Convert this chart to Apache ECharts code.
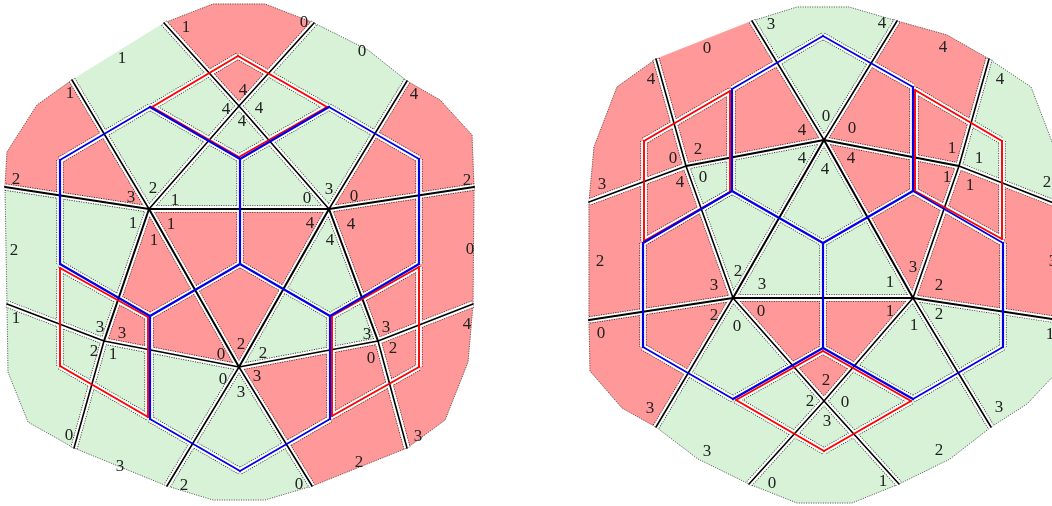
<!DOCTYPE html>
<html><head><meta charset="utf-8">
<style>html,body{margin:0;padding:0;background:#fff}#c{width:1052px;height:506px}</style>
<script src="https://cdn.jsdelivr.net/npm/echarts@6/dist/echarts.min.js"></script>
</head><body><div id="c"></div>
<script>
// ---- left figure: cells
const redCellsLeft = [
 [[164,23],[213,4],[265,4],[314,23],[239,106]],
 [[5,187],[7,152],[37,105],[72,80],[149,209]],
 [[407,81],[440,100],[472,135],[474,187],[329,209]],
 [[474,187],[473,304],[378,341],[329,209]],
 [[149,209],[329,209],[239,367]],
 [[149,209],[104,341],[239,367]],
 [[239,367],[378,341],[407,448],[312,486]],
 [[378,341],[473,304],[468,362],[445,420],[407,448]]
];
const greenCellsLeft = [
 [[72,80],[149,209],[239,106],[164,23]],
 [[314,23],[368,50],[407,81],[329,209],[239,106]],
 [[149,209],[239,106],[329,209]],
 [[5,187],[149,209],[104,341],[7,304]],
 [[329,209],[378,341],[239,367]],
 [[7,304],[104,341],[74,448],[28,422],[8,372]],
 [[104,341],[239,367],[167,486],[74,448]],
 [[239,367],[312,486],[265,500],[213,500],[167,486]]
];
// ---- right figure: cells
const redCellsRight = [
 [[656,59],[686,166],[824,140],[752,21]],
 [[897,21],[824,140],[959,166],[989,59],[947,35]],
 [[656,59],[686,166],[589,202],[594,147],[617,87]],
 [[824,140],[959,166],[913,298]],
 [[589,202],[686,166],[733,298],[589,320]],
 [[1059,205],[959,166],[913,298],[1059,320]],
 [[589,320],[733,298],[656,427],[622,408],[590,371]],
 [[733,298],[913,298],[824,401]]
];
const greenCellsRight = [
 [[752,21],[797,7],[849,7],[897,21],[824,140]],
 [[989,59],[959,166],[1059,205],[1054,147],[1031,87]],
 [[686,166],[824,140],[733,298]],
 [[824,140],[733,298],[913,298]],
 [[1059,320],[913,298],[991,427],[1027,404],[1058,371]],
 [[733,298],[824,401],[749,484],[698,459],[656,427]],
 [[913,298],[824,401],[899,484],[950,459],[991,427]],
 [[824,401],[899,484],[852,503],[797,503],[749,484]]
];
// ---- outer dotted outlines
const outlineLeft = [[164,23],[213,4],[265,4],[314,23],[368,50],[407,81],[440,100],[472,135],[474,187],[473,304],[468,362],[445,420],[407,448],[312,486],[265,500],[213,500],[167,486],[74,448],[28,422],[8,372],[7,304],[5,187],[7,152],[37,105],[72,80]];
const outlineRight = [[752,21],[797,7],[849,7],[897,21],[947,35],[989,59],[1031,87],[1054,147],[1059,205],[1059,320],[1058,371],[1027,404],[991,427],[950,459],[899,484],[852,503],[797,503],[749,484],[698,459],[656,427],[622,408],[590,371],[589,320],[589,202],[594,147],[617,87],[656,59]];
// ---- line segments [x1,y1,x2,y2]
const blackHeavy = [
 [149,209,329,209],[149,209,239,367],[329,209,239,367],[149,209,5,187],[329,209,474,187],
 [149,209,104,341],[329,209,378,341],
 [733,298,913,298],[824,140,733,298],[824,140,913,298],[733,298,589,320],[913,298,1059,320],
 [824,140,686,166],[824,140,959,166]
];
const blackThin = [
 [164,23,239,106],[239,106,329,209],[314,23,239,106],[239,106,149,209],[72,80,149,209],[407,81,329,209],
 [104,341,74,448],[378,341,407,448],[239,367,104,341],[104,341,7,304],[239,367,378,341],[378,341,473,304],
 [239,367,312,486],[239,367,167,486],
 [752,21,824,140],[897,21,824,140],[686,166,589,202],[959,166,1059,205],[656,59,686,166],[686,166,733,298],
 [989,59,959,166],[959,166,913,298],[733,298,656,427],[913,298,991,427],[733,298,824,401],[824,401,899,484],
 [913,298,824,401],[824,401,749,484]
];
const blueHeavy = [
 [240,159,240,264],[240,264,150,316],[240,264,330,316],[150,316,150,419],[330,316,330,419],
 [150,107,240,159],[240,159,329,107],[60,160,60,264],[419,159,419,264],[60,264,150,316],[419,264,330,316],
 [732,89,732,191],[913,87,913,191],[732,191,823,243],[913,191,823,243],[823,243,823,348],
 [643,243,643,347],[1003,243,1003,347],[732,191,643,243],[823,348,733,399],[823,348,913,399]
];
const blueThin = [
 [60,160,150,107],[329,107,419,159],[150,419,240,471],[240,471,330,419],
 [823,36,732,89],[823,36,913,87],[913,191,1003,243],[1003,347,913,399],[733,399,643,347]
];
const redLines = [
 [238,56,152,107],[152,107,239,157],[239,157,327,107],[327,107,238,56],
 [60,268,148,317],[148,317,148,417],[148,417,60,366],[60,366,60,268],
 [419,267,332,316],[332,316,332,416],[332,416,419,367],[419,367,419,267],
 [730,91,644,141],[644,141,644,241],[644,241,730,192],[730,192,730,91],
 [915,90,1002,141],[1002,141,1002,239],[1002,239,915,191],[915,191,915,90],
 [823,351,911,401],[911,401,824,451],[824,451,736,400],[736,400,823,351]
];
// ---- text labels [x,y,text]
const labelsLeft = [
 [186,28,'1'],[304,23,'0'],[122,59,'1'],[362,52,'0'],[70,94,'1'],[414,95,'4'],[243,91,'4'],[226,110,'4'],[259,109,'4'],[242,122,'4'],
 [16,180,'2'],[467,181,'2'],[131,198,'3'],[153,189,'2'],[175,201,'1'],[307,199,'0'],[329,190,'3'],[354,197,'0'],
 [133,224,'1'],[171,225,'1'],[154,241,'1'],[310,224,'4'],[351,225,'4'],[330,241,'4'],[14,251,'2'],[470,250,'0'],
 [16,319,'1'],[467,325,'4'],[100,328,'3'],[122,334,'3'],[94,352,'2'],[113,355,'1'],[367,335,'3'],[386,328,'3'],[371,359,'0'],[393,349,'2'],
 [221,355,'0'],[241,345,'2'],[263,354,'2'],[223,380,'0'],[241,393,'3'],[257,377,'3'],[69,436,'0'],[418,437,'3'],[120,467,'3'],[359,463,'2'],[184,486,'2'],[299,485,'0']
];
const labelsRight = [
 [771,25,'3'],[882,24,'4'],[707,49,'0'],[943,48,'4'],[651,80,'4'],[1000,80,'4'],[826,117,'0'],[802,131,'4'],[852,129,'0'],
 [698,150,'2'],[952,149,'1'],[673,159,'0'],[979,159,'1'],[802,159,'4'],[851,159,'4'],[825,170,'4'],[703,178,'0'],[680,183,'4'],[947,178,'1'],[970,186,'1'],
 [602,185,'3'],[1047,183,'2'],[600,262,'2'],[1053,262,'3'],[738,272,'2'],[913,268,'3'],[714,286,'3'],[762,285,'3'],[890,283,'1'],[939,286,'2'],
 [761,312,'0'],[714,316,'2'],[890,312,'1'],[939,315,'2'],[737,327,'0'],[914,326,'1'],[601,334,'0'],[1050,335,'1'],
 [826,381,'2'],[810,402,'2'],[845,403,'0'],[827,422,'3'],[650,409,'3'],[999,408,'3'],[707,452,'3'],[939,451,'2'],[772,484,'0'],[883,482,'1']
];

const RED='#ff9999', GREEN='#d8f2d8';
const allSegs = blackHeavy.concat(blackThin, blueHeavy, blueThin, redLines);

function polySeries(polys, color, z){
  return {type:'custom', coordinateSystem:'cartesian2d', silent:true, z:z,
    data: polys.map((p,i)=>[p[0][0],p[0][1],i]),
    renderItem:(params,api)=>({type:'polygon',
      shape:{points:polys[params.dataIndex].map(q=>api.coord(q))},
      style:{fill:color,stroke:color,lineWidth:0.6}})};
}
function outlineSeries(polys, z){
  return {type:'custom', coordinateSystem:'cartesian2d', silent:true, z:z,
    data: polys.map((p,i)=>[p[0][0],p[0][1],i]),
    renderItem:(params,api)=>({type:'polyline',
      shape:{points:polys[params.dataIndex].map(q=>api.coord(q))},
      style:{fill:null,stroke:'#444',lineWidth:0.9,lineDash:[1,1.4]}})};
}
function segSeries(segs, stroke, width, dash, z, cap){
  return {type:'custom', coordinateSystem:'cartesian2d', silent:true, z:z,
    encode:{x:[0,2],y:[1,3]},
    data: segs,
    renderItem:(params,api)=>{
      const a=api.coord([api.value(0),api.value(1)]), b=api.coord([api.value(2),api.value(3)]);
      return {type:'line',shape:{x1:a[0],y1:a[1],x2:b[0],y2:b[1]},
        style:{stroke:stroke,lineWidth:width,lineDash:dash||null,lineCap:cap||'round',fill:null}};
    }};
}
function labelSeries(labels){
  return {type:'custom', coordinateSystem:'cartesian2d', silent:true, z:20,
    data: labels.map(l=>[l[0],l[1]]),
    renderItem:(params,api)=>{
      const c=api.coord([api.value(0),api.value(1)]);
      return {type:'text',style:{x:c[0],y:c[1],text:labels[params.dataIndex][2],
        fill:'#222',font:'17px "Liberation Serif"',align:'center',verticalAlign:'middle'}};
    }};
}

const chart = echarts.init(document.getElementById('c'),null,{renderer:'canvas'});
chart.setOption({
  animation:false, backgroundColor:'#fff',
  grid:{left:0,right:0,top:0,bottom:0,containLabel:false},
  xAxis:{type:'value',min:0,max:1052,show:false},
  yAxis:{type:'value',min:0,max:506,inverse:true,show:false},
  series:[
    polySeries(redCellsLeft.concat(redCellsRight),RED,1),
    polySeries(greenCellsLeft.concat(greenCellsRight),GREEN,1),
    outlineSeries([outlineLeft,outlineRight],2),
    segSeries(allSegs,'#222',7.4,[1,1.4],3,'butt'),
    segSeries(allSegs,'#fff',5.8,null,4,'butt'),
    segSeries(blackThin,'#000',1.6,null,5),
    segSeries(blackHeavy,'#000',2,null,5),
    segSeries(redLines,'#ff0000',1.9,null,6),
    segSeries(blueThin,'#0000e6',1.7,null,7),
    segSeries(blueHeavy,'#0000e6',2.2,null,7),
    labelSeries(labelsLeft),
    labelSeries(labelsRight)
  ]
});
</script></body></html>
